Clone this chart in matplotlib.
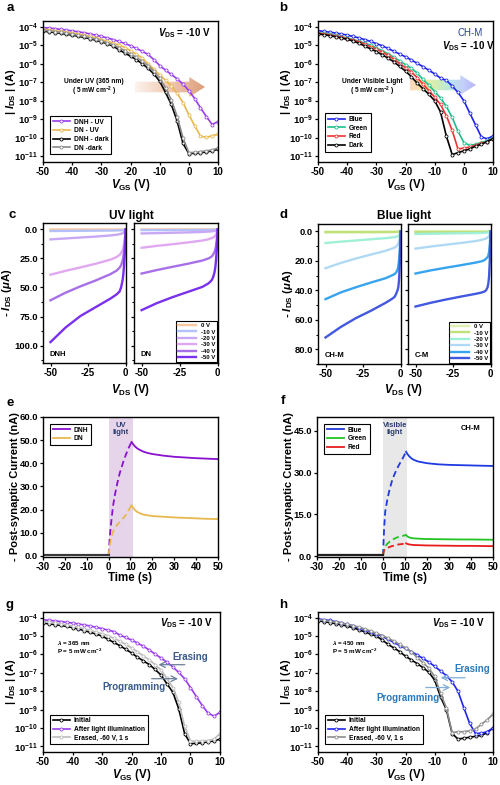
import numpy as np
import matplotlib
matplotlib.use("Agg")
import matplotlib.pyplot as plt
from matplotlib.patches import Polygon
from matplotlib.colors import LinearSegmentedColormap
from matplotlib.ticker import MultipleLocator, FormatStrFormatter, NullLocator

plt.rcParams.update({
    'font.family': 'Liberation Sans',
    'font.weight': 'bold',
    'axes.labelweight': 'bold',
    'axes.unicode_minus': False,
    'mathtext.fontset': 'custom',
    'mathtext.rm': 'Liberation Sans:bold',
    'mathtext.it': 'Liberation Sans:italic:bold',
    'mathtext.bf': 'Liberation Sans:bold',
    'axes.linewidth': 1.0,
    'xtick.major.width': 0.9, 'ytick.major.width': 0.9,
    'xtick.minor.width': 0.8, 'ytick.minor.width': 0.8,
    'xtick.major.size': 2.5, 'ytick.major.size': 2.5,
    'xtick.minor.size': 1.5, 'ytick.minor.size': 1.5,
    'xtick.labelsize': 7, 'ytick.labelsize': 6.8,
    'xtick.major.pad': 1.2, 'ytick.major.pad': 1.2,
})

# ---- transfer curves (log10 of |I_DS| in A), V_GS = -50 ... 10 V step 2 ----
vgs = np.arange(-50, 11, 2)

a_dnh_uv = [-4.05, -4.08, -4.11, -4.15, -4.19, -4.23, -4.28, -4.33, -4.39, -4.46, -4.53,
            -4.61, -4.70, -4.80, -4.91, -5.03, -5.18, -5.33, -5.50, -5.78, -6.10, -6.35,
            -6.58, -6.82, -7.10, -7.45, -7.88, -8.38, -8.85, -9.28, -9.12]
a_dn_uv = [-4.15, -4.18, -4.22, -4.26, -4.30, -4.35, -4.40, -4.46, -4.53, -4.61, -4.70,
           -4.79, -4.89, -4.99, -5.13, -5.30, -5.48, -5.70, -6.00, -6.30, -6.60, -6.90,
           -7.20, -7.60, -8.10, -8.75, -9.35, -9.90, -9.98, -9.88, -9.80]
a_dnh_dark = [-4.25, -4.28, -4.32, -4.36, -4.41, -4.46, -4.52, -4.58, -4.65, -4.73, -4.82,
              -4.92, -5.05, -5.25, -5.42, -5.60, -5.78, -6.00, -6.25, -6.55, -6.95, -7.55,
              -8.20, -9.10, -10.30, -10.85, -10.83, -10.80, -10.76, -10.70, -10.62]
a_dn_dark = [-4.20, -4.23, -4.27, -4.31, -4.36, -4.41, -4.47, -4.53, -4.60, -4.68, -4.77,
             -4.87, -4.99, -5.13, -5.30, -5.48, -5.66, -5.87, -6.10, -6.40, -6.78, -7.30,
             -7.95, -8.85, -10.00, -10.80, -10.78, -10.74, -10.70, -10.65, -10.55]

b_blue = [-4.22, -4.26, -4.30, -4.35, -4.40, -4.46, -4.53, -4.61, -4.70, -4.80, -4.92,
          -5.03, -5.18, -5.33, -5.48, -5.63, -5.80, -5.98, -6.16, -6.35, -6.55, -6.78,
          -6.90, -7.20, -7.55, -8.00, -8.65, -9.30, -9.95, -10.05, -9.90]
b_green = [-4.33, -4.37, -4.42, -4.48, -4.55, -4.62, -4.70, -4.79, -4.89, -5.00, -5.15,
           -5.30, -5.47, -5.65, -5.85, -6.05, -6.25, -6.50, -6.85, -7.15, -7.50, -7.85,
           -8.30, -8.90, -9.65, -10.25, -10.40, -10.35, -10.25, -10.15, -10.00]
b_red = [-4.36, -4.40, -4.45, -4.51, -4.58, -4.65, -4.73, -4.82, -4.95, -5.08, -5.22,
         -5.38, -5.55, -5.75, -6.00, -6.22, -6.45, -6.75, -7.10, -7.45, -7.80, -8.20,
         -8.80, -9.60, -10.60, -10.55, -10.50, -10.40, -10.30, -10.20, -10.05]
b_dark = [-4.40, -4.44, -4.49, -4.55, -4.62, -4.69, -4.78, -4.90, -5.05, -5.20, -5.35,
          -5.52, -5.70, -5.90, -6.15, -6.40, -6.70, -7.05, -7.35, -7.65, -8.00, -8.60,
          -9.90, -10.90, -10.80, -10.70, -10.60, -10.45, -10.35, -10.20, -10.05]

g_initial = [-4.30, -4.34, -4.38, -4.43, -4.48, -4.55, -4.62, -4.71, -4.80, -4.90, -5.00,
             -5.18, -5.35, -5.52, -5.72, -5.92, -6.15, -6.35, -6.55, -6.82, -7.12, -7.60,
             -8.05, -8.95, -10.30, -10.85, -10.83, -10.80, -10.75, -10.70, -10.60]
g_light = [-4.12, -4.15, -4.18, -4.22, -4.26, -4.30, -4.35, -4.40, -4.46, -4.53, -4.60,
           -4.68, -4.76, -4.95, -5.08, -5.22, -5.38, -5.56, -5.76, -5.98, -6.20, -6.42,
           -6.68, -6.98, -7.32, -7.80, -8.30, -8.78, -9.20, -9.35, -9.15]
g_erased = [-4.22, -4.26, -4.30, -4.35, -4.40, -4.46, -4.53, -4.61, -4.70, -4.79, -4.88,
            -4.99, -5.12, -5.28, -5.45, -5.65, -5.86, -6.08, -6.30, -6.55, -6.85, -7.30,
            -7.80, -8.60, -9.90, -10.70, -10.72, -10.70, -10.68, -10.60, -10.30]

h_initial = [-4.18, -4.22, -4.27, -4.33, -4.39, -4.46, -4.55, -4.66, -4.78, -4.90, -5.00,
             -5.22, -5.45, -5.65, -5.85, -6.10, -6.30, -6.50, -6.72, -6.97, -7.40, -8.30,
             -9.00, -10.30, -10.60, -10.55, -10.50, -10.45, -10.40, -10.25, -10.00]
h_light = [-4.08, -4.12, -4.16, -4.22, -4.29, -4.37, -4.45, -4.55, -4.65, -4.77, -4.88,
           -5.02, -5.18, -5.35, -5.52, -5.68, -5.85, -6.03, -6.22, -6.42, -6.65, -6.90,
           -7.15, -7.50, -8.00, -8.90, -9.75, -10.30, -10.28, -10.20, -10.00]
h_erased = [-4.12, -4.16, -4.20, -4.25, -4.31, -4.37, -4.44, -4.52, -4.62, -4.73, -4.85,
            -4.98, -5.12, -5.28, -5.46, -5.65, -5.85, -6.18, -6.45, -6.75, -7.20, -8.10,
            -8.90, -10.25, -10.20, -10.20, -10.15, -10.05, -9.80, -9.55, -9.25]

# ---- output curves (-I_DS in uA) ----
vds = [-50, -40, -30, -20, -10, -6, -4, -3, -2, -1.5, -1, -0.5, 0]
vg_labels = ['0 V', '-10 V', '-20 V', '-30 V', '-40 V', '-50 V']

c_dnh = [
    [0.1, 0.1, 0.1, 0.1, 0.1, 0.1, 0.1, 0.1, 0.1, 0.1, 0.1, 0.05, 0],
    [1.4, 1.3, 1.2, 1.1, 1.0, 0.92, 0.85, 0.8, 0.7, 0.6, 0.5, 0.3, 0],
    [8.6, 7.8, 7.0, 6.2, 5.2, 4.6, 4.1, 3.8, 3.3, 2.9, 2.3, 1.5, 0],
    [39, 35.7, 32.7, 29.6, 26, 23.8, 22, 20.5, 18, 16, 12.5, 8, 0],
    [61, 54.5, 49, 44, 38.5, 35.5, 33, 31, 27, 24, 19, 12, 0],
    [97, 84.5, 74.5, 67, 59.5, 56, 53.5, 50, 44, 39, 31, 20, 0],
]
c_dn = [
    [0.05, 0.05, 0.05, 0.05, 0.05, 0.05, 0.05, 0.05, 0.05, 0.05, 0.05, 0.03, 0],
    [0.6, 0.58, 0.56, 0.54, 0.5, 0.47, 0.44, 0.42, 0.38, 0.33, 0.27, 0.17, 0],
    [3.5, 3.2, 2.9, 2.6, 2.2, 1.9, 1.7, 1.55, 1.35, 1.2, 0.95, 0.6, 0],
    [15.8, 14.2, 12.8, 11.3, 9.6, 8.5, 7.6, 7.0, 6.2, 5.5, 4.4, 2.8, 0],
    [38, 35, 32.3, 29.7, 26.8, 25, 23.5, 22, 19.5, 17.5, 14, 9, 0],
    [69.5, 63.5, 58.5, 54, 49.5, 46.5, 44, 41.5, 37, 33, 26.5, 17, 0],
]
d_chm = [
    [0.2, 0.2, 0.2, 0.2, 0.2, 0.2, 0.2, 0.2, 0.2, 0.2, 0.15, 0.1, 0],
    [0.6, 0.58, 0.56, 0.54, 0.5, 0.47, 0.44, 0.42, 0.38, 0.33, 0.27, 0.17, 0],
    [7.9, 7.0, 6.2, 5.4, 4.6, 4.2, 3.9, 3.7, 3.3, 3.0, 2.5, 1.6, 0],
    [25, 21.5, 18.5, 15.8, 13.2, 11.8, 11, 10.3, 9.2, 8.2, 6.6, 4.2, 0],
    [46, 41.5, 38, 34.8, 31.8, 30, 29, 28, 26, 24, 19.5, 12.5, 0],
    [72, 65, 59, 54, 48.5, 46, 44.5, 42.5, 40, 38, 33, 22, 0],
]
d_cm = [
    [0.1, 0.1, 0.1, 0.1, 0.1, 0.1, 0.1, 0.1, 0.1, 0.1, 0.08, 0.05, 0],
    [0.4, 0.39, 0.38, 0.37, 0.35, 0.33, 0.31, 0.3, 0.27, 0.24, 0.2, 0.12, 0],
    [1.8, 1.6, 1.45, 1.3, 1.15, 1.05, 0.95, 0.9, 0.8, 0.7, 0.55, 0.35, 0],
    [11.7, 10.3, 9.1, 7.9, 6.6, 5.8, 5.2, 4.8, 4.2, 3.7, 3.0, 1.9, 0],
    [28.6, 26.5, 24.7, 23, 21.2, 20.3, 19.5, 18.5, 17.5, 16.5, 14, 9, 0],
    [51, 48.5, 46.3, 44.3, 42.4, 41.5, 40.8, 40, 38, 35.5, 31, 20, 0],
]

# ---- post-synaptic current (nA) ----
t_pre = [-30, 0]
t_on = [0, 0.5, 1, 2, 3, 4, 5, 6, 7, 8, 9, 10, 10.5]
t_off = [10.5, 11, 12, 13, 14, 16, 18, 20, 25, 30, 35, 40, 45, 50]

e_pre = [0.3, 0.3]
e_dnh_on = [0.3, 8, 13, 21.5, 27, 31.5, 35.5, 38.5, 41.5, 44, 46.3, 48.3, 49.2]
e_dnh_off = [49.2, 48.5, 47.3, 46.5, 45.9, 45.0, 44.4, 44.0, 43.3, 42.8, 42.5, 42.2, 42.0, 41.8]
e_dn_on = [0.3, 4.5, 7, 10.5, 12.2, 13.5, 14.5, 15.5, 16.7, 17.8, 19.5, 21, 21.8]
e_dn_off = [21.8, 21.0, 19.8, 19.0, 18.5, 17.8, 17.5, 17.2, 16.9, 16.6, 16.4, 16.2, 16.0, 15.9]

f_pre = [0.3, 0.3]
f_blue_on = [0.3, 10, 16, 20.5, 24, 26.8, 29, 30.8, 32.4, 33.8, 35.2, 36.8, 37.5]
f_blue_off = [37.5, 36.8, 35.8, 35.1, 34.6, 34.0, 33.7, 33.4, 33.0, 32.8, 32.7, 32.6, 32.5, 32.4]
f_green_on = [0.3, 2.8, 3.5, 4.5, 5.2, 5.8, 6.2, 6.6, 6.9, 7.1, 7.3, 7.5, 7.6]
f_green_off = [7.6, 7.1, 6.7, 6.5, 6.4, 6.3, 6.2, 6.15, 6.1, 6.05, 6.0, 6.0, 5.95, 5.9]
f_red_on = [0.3, 2.2, 2.6, 3.0, 3.3, 3.6, 3.8, 4.0, 4.2, 4.3, 4.4, 4.5, 4.6]
f_red_off = [4.6, 4.4, 4.2, 4.1, 4.0, 3.95, 3.9, 3.85, 3.8, 3.75, 3.7, 3.7, 3.65, 3.6]

W, H = 500, 785
fig = plt.figure(figsize=(W / 100, H / 100), dpi=100)


def px_axes(x0, y0, x1, y1):
    # axes from pixel box (top-left origin)
    return fig.add_axes([x0 / W, 1 - y1 / H, (x1 - x0) / W, (y1 - y0) / H])


def log_axes(ax):
    ax.set_yscale('log')
    ax.set_xlim(-50, 10)
    ax.set_ylim(5e-12, 2e-4)
    ax.set_xticks([-50, -40, -30, -20, -10, 0, 10])
    ks = list(range(-11, -3))
    ax.set_yticks([10.0 ** k for k in ks])
    ax.set_yticklabels([r'$\rm 10^{%d}$' % k for k in ks])
    ax.tick_params(axis='y', labelsize=6.8, pad=1)
    ax.yaxis.set_minor_locator(NullLocator())
    ax.set_xlabel(r'$V_{\rm GS}$ (V)', fontsize=8.3, labelpad=0)
    ax.set_ylabel(r'| $I_{\rm DS}$ | (A)', fontsize=8)
    # keep the label right next to the tick labels (right edge ~ x = 18 px)
    w_px = ax.get_position().width * W
    ax.yaxis.set_label_coords(-25.0 / w_px, 0.5)


def curve(ax, logi, color, label, lw=1.2):
    ax.plot(vgs, 10.0 ** np.array(logi), color=color, lw=lw, marker='o', ms=2.2,
            mfc='white', mew=0.6, label=label)


def small_legend(ax, **kw):
    leg = ax.legend(fontsize=4.8, frameon=True, fancybox=False, framealpha=1,
                    edgecolor='black', borderpad=0.4, labelspacing=0.25,
                    handlelength=2.6, handletextpad=0.6, **kw)
    leg.get_frame().set_linewidth(0.8)
    return leg


def grad_arrow(ax, x0, x1, yc, body, head, head_len, colors):
    iax = ax.inset_axes([x0, yc - head / 2, x1 - x0, head])
    iax.set_axis_off()
    iax.set_zorder(1)
    b = body / head / 2
    s = 1 - head_len / (x1 - x0)
    pts = [(0, 0.5 - b), (s, 0.5 - b), (s, 0), (1, 0.5), (s, 1), (s, 0.5 + b), (0, 0.5 + b)]
    poly = Polygon(pts, closed=True, transform=iax.transAxes, fc='none', ec='none')
    iax.add_patch(poly)
    cmap = LinearSegmentedColormap.from_list('arr', colors)
    im = iax.imshow(np.linspace(0, 1, 256)[None, :], cmap=cmap, aspect='auto',
                    extent=[0, 1, 0, 1])
    im.set_clip_path(poly)
    iax.set_xlim(0, 1)
    iax.set_ylim(0, 1)


# ================= a =================
ax = px_axes(43, 21, 218, 162)
log_axes(ax)
curve(ax, a_dnh_uv, '#9a3cf0', 'DNH - UV')
curve(ax, a_dn_uv, '#e8b84c', 'DN - UV')
curve(ax, a_dnh_dark, '#000000', 'DNH - dark')
curve(ax, a_dn_dark, '#8a8a8a', 'DN -dark')
grad_arrow(ax, 0.526, 0.926, 0.532, 0.075, 0.14, 0.09, ['#fdf3ee', '#f0c8b0', '#dc9e7c'])
ax.text(0.96, 0.915, r'$V_{\rm DS}$ = -10 V', transform=ax.transAxes, ha='right', va='center', fontsize=7)
ax.text(0.29, 0.57, 'Under UV (365 nm)', transform=ax.transAxes, ha='center', va='center', fontsize=4.8)
ax.text(0.29, 0.50, r'( 5 mW cm$^{-2}$ )', transform=ax.transAxes, ha='center', va='center', fontsize=4.8)
small_legend(ax, loc='lower left', bbox_to_anchor=(0.02, 0.03))

# ================= b =================
ax = px_axes(318, 21, 493, 162)
log_axes(ax)
curve(ax, b_blue, '#1f24f0', 'Blue')
curve(ax, b_green, '#1dbf8c', 'Green')
curve(ax, b_red, '#f03434', 'Red')
curve(ax, b_dark, '#000000', 'Dark')
grad_arrow(ax, 0.526, 0.903, 0.546, 0.075, 0.14, 0.09,
           ['#fbd8bc', '#fbe8a8', '#d4eeb4', '#b8e8e0', '#c4d0fa', '#b8b4f6'])
ax.text(0.87, 0.915, 'CH-M', transform=ax.transAxes, ha='center', va='center', fontsize=7,
        color='#24408e', fontweight='normal')
ax.text(0.86, 0.82, r'$V_{\rm DS}$ = -10 V', transform=ax.transAxes, ha='center', va='center', fontsize=7)
ax.text(0.31, 0.57, 'Under Visible Light', transform=ax.transAxes, ha='center', va='center', fontsize=4.8)
ax.text(0.31, 0.50, r'( 5 mW cm$^{-2}$ )', transform=ax.transAxes, ha='center', va='center', fontsize=4.8)
small_legend(ax, loc='lower left', bbox_to_anchor=(0.02, 0.05))


# ================= c & d =================
def output_pair(boxes, data_l, data_r, cols, lbl_l, lbl_r, ylim, ymaj, ymin, title, xlab_x):
    axl = px_axes(*boxes[0])
    axr = px_axes(*boxes[1])
    for ax, data, lbl in ((axl, data_l, lbl_l), (axr, data_r, lbl_r)):
        for vals, col, lab in zip(data, cols, vg_labels):
            ax.plot(vds, vals, color=col, lw=1.7, label=lab)
        ax.set_xlim(-55, 0.3)
        ax.set_ylim(*ylim)
        ax.set_xticks([-50, -25, 0])
        ax.yaxis.set_major_locator(MultipleLocator(ymaj))
        ax.yaxis.set_minor_locator(MultipleLocator(ymin))
        ax.yaxis.set_major_formatter(FormatStrFormatter('%.1f'))
        ax.tick_params(axis='y', pad=1)
        ax.text(0.08, 0.06, lbl, transform=ax.transAxes, ha='left', va='center', fontsize=5.5)
    axr.tick_params(axis='y', labelleft=False)
    axl.set_ylabel(r'- $I_{\rm DS}$ ($\mu$A)', fontsize=8.2, labelpad=0)
    leg = axr.legend(fontsize=4.3, frameon=True, fancybox=False, framealpha=1,
                     edgecolor='black', loc='lower right', borderaxespad=0.15,
                     borderpad=0.35, labelspacing=0.2, handlelength=3.0, handletextpad=0.8)
    leg.get_frame().set_linewidth(0.8)
    fig.text(xlab_x, 0.725, title, ha='center', va='center', fontsize=8.5)
    fig.text(xlab_x, 0.503, r'$V_{\rm DS}$ (V)', ha='center', va='center', fontsize=8.3)


output_pair([(43, 223, 126, 363), (134, 223, 218, 363)], c_dnh, c_dn,
            ['#f8c8a0', '#b4c0f8', '#c8a8f4', '#e0a8f0', '#a870e8', '#7a30ee'],
            'DNH', 'DN', (115, -5.5), 25, 12.5, 'UV light', 0.262)
output_pair([(318, 224, 401, 364), (408, 224, 491, 364)], d_chm, d_cm,
            ['#dcf0b0', '#c0e078', '#a0f0d8', '#b0daf4', '#38a4ee', '#4258e0'],
            'CH-M', 'C-M', (90, -5), 20, 10, 'Blue light', 0.808)


# ================= e & f =================
def psc_axes(box, ylim, ymaj, span_col, span_txt):
    ax = px_axes(*box)
    ax.set_xlim(-30, 50)
    ax.set_ylim(*ylim)
    ax.xaxis.set_major_locator(MultipleLocator(10))
    ax.yaxis.set_major_locator(MultipleLocator(ymaj))
    ax.yaxis.set_major_formatter(FormatStrFormatter('%.1f'))
    ax.tick_params(axis='y', pad=1)
    ax.axvspan(0, 11, color=span_col, lw=0, zorder=0)
    ax.text(5.5, ylim[1] * 0.915, span_txt, ha='center', va='center', fontsize=5.5,
            color='#2c3e70', linespacing=1.1)
    ax.set_xlabel('Time (s)', fontsize=8.3, labelpad=0)
    ax.set_ylabel('- Post-synaptic Current (nA)', fontsize=8, labelpad=0)
    return ax


ax = psc_axes((43, 417, 218, 557), (-0.5, 60), 10, '#e6d5ea', 'UV\nlight')
for on, off, col, lab in ((e_dnh_on, e_dnh_off, '#8a10d0', 'DNH'), (e_dn_on, e_dn_off, '#e8b850', 'DN')):
    ax.plot(t_on, on, color=col, lw=1.3, ls=(0, (3.5, 2)))
    ax.plot(t_off, off, color=col, lw=1.3, label=lab)
    ax.plot(t_pre, e_pre, color='#3a3a3a', lw=1.5)
small_legend(ax, loc='upper left', bbox_to_anchor=(0.02, 0.975))

ax = psc_axes((317, 417, 493, 557), (-0.3, 50), 15, '#e8e8e8', 'Visible\nlight')
for on, off, col, lab in ((f_blue_on, f_blue_off, '#1e3ae0', 'Blue'),
                          (f_green_on, f_green_off, '#22c422', 'Green'),
                          (f_red_on, f_red_off, '#e81c1c', 'Red')):
    ax.plot(t_on, on, color=col, lw=1.3, ls=(0, (3.5, 2)))
    ax.plot(t_off, off, color=col, lw=1.3, label=lab)
    ax.plot(t_pre, f_pre, color='#222222', lw=1.5)
ax.text(40, 45.7, 'CH-M', ha='center', va='center', fontsize=5.5)
small_legend(ax, loc='upper left', bbox_to_anchor=(0.02, 0.975))


# ================= g & h =================
def memory_panel(box, curves, lam, vds_x, arr_col, txt_col, erase, prog):
    ax = px_axes(*box)
    log_axes(ax)
    for logi, col, lab in curves:
        curve(ax, logi, col, lab)
    ax.text(vds_x, 0.92, r'$V_{\rm DS}$ = -10 V', transform=ax.transAxes, ha='right', va='center', fontsize=7)
    ax.text(0.08, 0.78, r'$\lambda$ = %s nm' % lam, transform=ax.transAxes, ha='left', va='center', fontsize=4.5)
    ax.text(0.08, 0.72, r'P = 5 mW cm$^{-2}$', transform=ax.transAxes, ha='left', va='center', fontsize=4.5)
    (ex, ey), (ea0, ea1, eay) = erase
    (px_, py), (pa0, pa1, pay) = prog
    ax.text(ex, 10.0 ** ey, 'Erasing', ha='center', va='center', fontsize=7, color=txt_col)
    ax.text(px_, 10.0 ** py, 'Programming', ha='center', va='center', fontsize=7, color=txt_col)
    ax.annotate('', xy=(ea1, 10.0 ** eay), xytext=(ea0, 10.0 ** eay),
                arrowprops=dict(arrowstyle='->', color=arr_col, lw=0.9))
    ax.annotate('', xy=(pa1, 10.0 ** pay), xytext=(pa0, 10.0 ** pay),
                arrowprops=dict(arrowstyle='->', color=arr_col, lw=0.9))
    small_legend(ax, loc='lower left', bbox_to_anchor=(0.02, 0.03))


memory_panel((43, 612, 220, 752),
             [(g_initial, '#000000', 'Initial'),
              (g_light, '#9a3cf0', 'After light illumination'),
              (g_erased, '#bcbcbc', 'Erased, -60 V, 1 s')],
             '365', 0.96, '#6a7f9a', '#3a5a8c',
             ((-0.1, -6.12), (-1.0, -11.8, -6.56)),
             ((-19.2, -7.79), (-14.1, -3.3, -7.32)))
memory_panel((318, 612, 493, 752),
             [(h_initial, '#000000', 'Initial'),
              (h_light, '#1f24f0', 'After light illumination'),
              (h_erased, '#8c8c8c', 'Erased, -60 V, 1 s')],
             '450', 0.95, '#80aed8', '#2a7ac0',
             ((2.9, -6.81), (1.4, -8.9, -7.27)),
             ((-19.1, -8.36), (-14.0, -3.7, -7.8)))

# panel letters
for letter, x, y in (('a', 0.02, 0.99), ('b', 0.566, 0.99), ('c', 0.024, 0.726), ('d', 0.566, 0.726),
                     ('e', 0.02, 0.487), ('f', 0.566, 0.489), ('g', 0.02, 0.229), ('h', 0.566, 0.229)):
    fig.text(x, y, letter, ha='center', va='center', fontsize=9.5)

fig.savefig('out.png', dpi=100)
